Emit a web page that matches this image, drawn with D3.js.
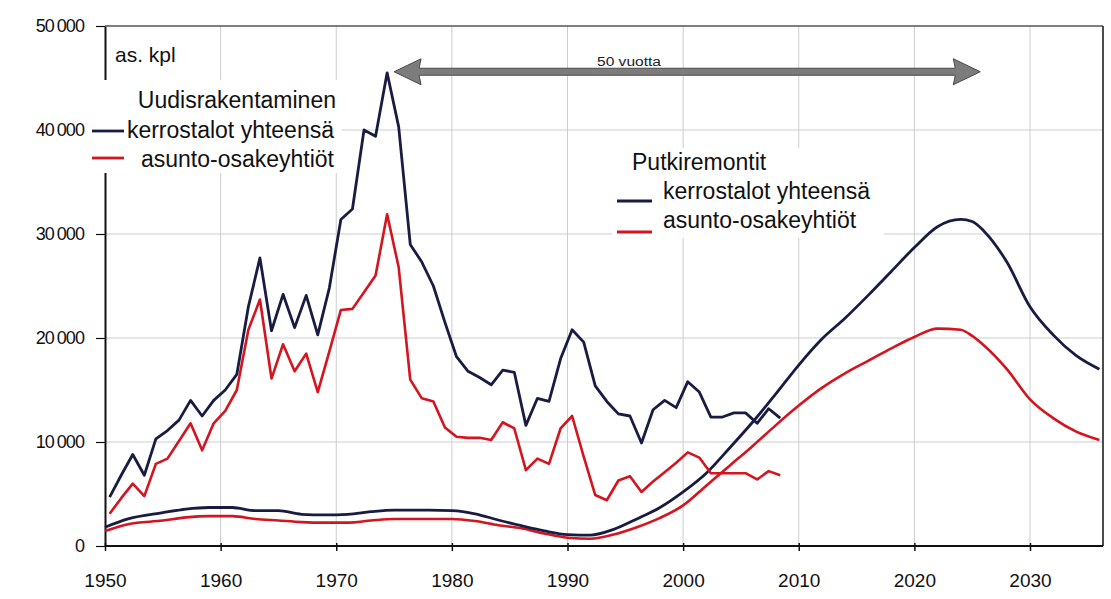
<!DOCTYPE html>
<html><head><meta charset="utf-8">
<script src="https://cdn.jsdelivr.net/npm/d3@7"></script>
<style>body{margin:0;background:#fff}svg{display:block}text{font-family:"Liberation Sans",Arial,sans-serif}</style>
</head><body>
<svg id="c" width="1111" height="599"></svg>
<script>
// ---- DATA ----
// Uudisrakentaminen (new construction), annual 1950–2008
const newYears = d3.range(1950, 2009);
const newTotal = [4700,6800,8800,6800,10300,11100,12100,14000,12500,14000,
  15000,16500,23000,27700,20700,24200,21000,24100,20300,24800,
  31400,32400,40000,39400,45500,40300,29000,27300,25000,21500,
  18200,16800,16200,15500,16900,16700,11600,14200,13900,18000,
  20800,19600,15400,13900,12700,12500,9900,13100,14000,13300,
  15800,14800,12400,12400,12800,12800,11800,13200,12300];
const newHousingCo = [3100,4600,6000,4800,7900,8400,10100,11800,9200,11800,
  13000,15000,20800,23700,16100,19400,16800,18500,14800,18700,
  22700,22800,24400,26000,31900,26800,16000,14200,13900,11400,
  10500,10400,10400,10200,11900,11300,7300,8400,7900,11300,
  12500,8600,4900,4400,6300,6700,5200,6200,7100,8000,
  9000,8500,7000,7000,7000,7000,6400,7200,6800];
// Putkiremontit (pipe renovations), 1950–2036
const pipeYears = [1950,1952,1955,1957,1959,1961,1963,1965,1967,1969,1971,1973,1975,1978,1980,1982,1984,1986,1988,1990,1992,1994,1996,1998,2000,2002,2004,2006,2008,2010,2012,2014,2016,2018,2020,2022,2024,2025,2026,2028,2030,2032,2034,2036];
const pipeTotal = [1800,2600,3200,3550,3700,3700,3400,3400,3050,3000,3050,3300,3450,3450,3400,3100,2500,1950,1450,1100,1050,1600,2600,3700,5200,7000,9400,11900,14600,17400,19900,21900,24100,26400,28700,30700,31400,31200,30300,27300,23000,20300,18300,17000];
const pipeHousingCo = [1450,2100,2450,2750,2870,2870,2600,2450,2300,2250,2250,2450,2600,2600,2600,2400,2000,1700,1200,800,700,1100,1800,2700,3900,5800,7700,9600,11600,13500,15200,16600,17800,19000,20100,20900,20800,20200,19300,17000,14100,12300,11000,10200];
const xTicks = [1950,1960,1970,1980,1990,2000,2010,2020,2030];
const yTicks = [0,10000,20000,30000,40000,50000];
const arrowYears = [1975, 2025.7];
const arrowLevel = 45600;

// ---- CHART ----
const svg = d3.select("#c");
const x = d3.scaleLinear().domain([1950, 2030]).range([105, 1030]);
const xRight = 1103;
const y = d3.scaleLinear().domain([0, 50000]).range([546, 26]);
const NAVY = "#181c42", RED = "#d4141f";
const fmt = v => v === 0 ? "0" : d3.format(",")(v).replace(",", "\u2009");
const annualOffset = 0.4; // annual points sit inside the year slot

// grid
svg.append("g").selectAll("line").data(xTicks.slice(1)).join("line")
  .attr("x1", d => x(d)).attr("x2", d => x(d)).attr("y1", y(50000)).attr("y2", y(0))
  .attr("stroke", "#cdcdcd").attr("stroke-width", 1);
svg.append("g").selectAll("line").data(yTicks.slice(1, -1)).join("line")
  .attr("x1", x(1950)).attr("x2", xRight).attr("y1", d => y(d)).attr("y2", d => y(d))
  .attr("stroke", "#cdcdcd").attr("stroke-width", 1);

// frame
svg.append("line").attr("x1", x(1950)).attr("x2", xRight).attr("y1", y(50000)).attr("y2", y(50000)).attr("stroke", "#555").attr("stroke-width", 1.5);
svg.append("line").attr("x1", xRight).attr("x2", xRight).attr("y1", y(50000)).attr("y2", y(0)).attr("stroke", "#111").attr("stroke-width", 1.5);

// axes
const xAxis = d3.axisBottom(x).tickValues(xTicks).tickFormat(d3.format("d")).tickSize(5).tickSizeOuter(0);
const gx = svg.append("g").attr("transform", `translate(0,${y(0)})`).call(xAxis);
gx.select(".domain").attr("stroke", "#111").attr("stroke-width", 2).attr("d", `M${x(1950)},0H${xRight}`);
gx.selectAll(".tick line").attr("stroke", "#111").attr("y1", -3).attr("stroke-width", 1.5);
gx.selectAll(".tick text").attr("font-size", 19).attr("fill", "#111").attr("y", 28);

const yAxis = d3.axisLeft(y).tickValues(yTicks).tickFormat(fmt).tickSize(9).tickSizeOuter(0);
const gy = svg.append("g").attr("transform", `translate(${x(1950)},0)`).call(yAxis);
gy.select(".domain").attr("stroke", "#111").attr("stroke-width", 2);
gy.selectAll(".tick line").attr("stroke", "#111").attr("stroke-width", 1.2);
gy.selectAll(".tick text").attr("font-size", 18).attr("fill", "#111").attr("x", -21).attr("letter-spacing", "-0.9px");

// lines
const mk = (xs, off) => d3.line().x((d, i) => x(xs[i] + off)).y(d => y(d));
svg.append("path").attr("d", mk(pipeYears, 0).curve(d3.curveMonotoneX)(pipeHousingCo))
  .attr("fill", "none").attr("stroke", RED).attr("stroke-width", 2.6);
svg.append("path").attr("d", mk(pipeYears, 0).curve(d3.curveMonotoneX)(pipeTotal))
  .attr("fill", "none").attr("stroke", NAVY).attr("stroke-width", 2.8);
svg.append("path").attr("d", mk(newYears, annualOffset)(newHousingCo))
  .attr("fill", "none").attr("stroke", RED).attr("stroke-width", 2.6).attr("stroke-linejoin", "round");
svg.append("path").attr("d", mk(newYears, annualOffset)(newTotal))
  .attr("fill", "none").attr("stroke", NAVY).attr("stroke-width", 2.8).attr("stroke-linejoin", "round");

// unit label
svg.append("text").attr("x", 115).attr("y", 62).attr("font-size", 21).attr("fill", "#111").text("as. kpl");

// arrow
const ax1 = x(arrowYears[0]), ax2 = x(arrowYears[1]), ay = y(arrowLevel);
const arrowPath = `M${ax1},${ay} L${ax1+27},${ay-13} L${ax1+25},${ay-3.5} L${ax2-25},${ay-3.5} L${ax2-27},${ay-13} L${ax2},${ay} L${ax2-27},${ay+13} L${ax2-25},${ay+3.5} L${ax1+25},${ay+3.5} L${ax1+27},${ay+13} Z`;
svg.append("path").attr("d", arrowPath).attr("fill", "#7c7c7c").attr("stroke", "#4a4a4a").attr("stroke-width", 1);
svg.append("text").attr("x", 597).attr("y", 66).attr("font-size", 12).attr("textLength", 64)
  .attr("lengthAdjust", "spacingAndGlyphs").attr("fill", "#222").text("50 vuotta");

// legend 1
svg.append("rect").attr("x", 90).attr("y", 80).attr("width", 252).attr("height", 93).attr("fill", "#fff");
const lg1 = svg.append("g").attr("font-size", 23).attr("fill", "#111").attr("text-anchor", "end");
lg1.append("text").attr("x", 336).attr("y", 108).text("Uudisrakentaminen");
lg1.append("text").attr("x", 334).attr("y", 138).text("kerrostalot yhteensä");
lg1.append("text").attr("x", 334).attr("y", 167).text("asunto-osakeyhtiöt");
svg.append("line").attr("x1", 92).attr("x2", 124).attr("y1", 131).attr("y2", 131).attr("stroke", NAVY).attr("stroke-width", 2.8);
svg.append("line").attr("x1", 92).attr("x2", 124).attr("y1", 158).attr("y2", 158).attr("stroke", RED).attr("stroke-width", 2.8);

// legend 2
svg.append("rect").attr("x", 612).attr("y", 148).attr("width", 272).attr("height", 90).attr("fill", "#fff");
const lg2 = svg.append("g").attr("font-size", 23).attr("fill", "#111");
lg2.append("text").attr("x", 632).attr("y", 170).text("Putkiremontit");
lg2.append("text").attr("x", 663).attr("y", 199).text("kerrostalot yhteensä");
lg2.append("text").attr("x", 663).attr("y", 228).text("asunto-osakeyhtiöt");
svg.append("line").attr("x1", 617).attr("x2", 652).attr("y1", 201).attr("y2", 201).attr("stroke", NAVY).attr("stroke-width", 2.8);
svg.append("line").attr("x1", 617).attr("x2", 652).attr("y1", 232).attr("y2", 232).attr("stroke", RED).attr("stroke-width", 2.8);
</script>
</body></html>
